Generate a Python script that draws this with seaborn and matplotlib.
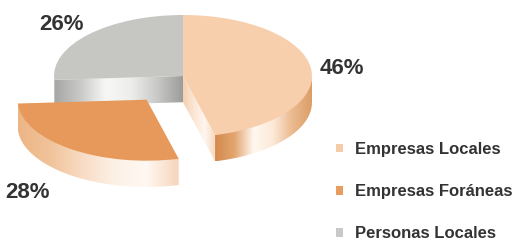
import numpy as np
import matplotlib
matplotlib.use("Agg")
import matplotlib.pyplot as plt
import seaborn as sns
from matplotlib.patches import Polygon, Patch
from matplotlib.colors import LinearSegmentedColormap

# ---- data ----
categories = ["Empresas Locales", "Empresas Foráneas", "Personas Locales"]
shares = [46, 28, 26]
pct_labels = [f"{v}%" for v in shares]

# ---- style ----
sns.set_theme(style="white")
plt.rcParams["font.family"] = ["Liberation Sans", "DejaVu Sans"]

top_colors = ["#F8CFAD", "#E6995A", "#C6C7C2"]
legend_colors = ["#F6CCA8", "#E89C5E", "#C9C9C7"]
wall_stops = [
    ["#D48A4C", "#E2A570", "#FFF8F0", "#FCE9D8", "#EBB98E", "#DC9E68"],
    ["#EDB585", "#F1C39A", "#F8DCC4", "#FDF1E6", "#FFF8F2", "#F6D5BA"],
    ["#A9A9A7", "#C4C4C2", "#F4F4F2", "#FAFAF8", "#D0D0CE", "#9E9E9C"],
]
cut_stops = [
    ["#F3CFAE", "#FBE7D6", "#FFF6EE", "#F6D7BC"],
    None,
    ["#A6A6A4", "#C8C8C6", "#F7F7F5", "#EDEDEB", "#C9C9C7", "#9C9C9A"],
]
explode = [0.0, 0.48, 0.0]
depth = 0.43
text_color = "#333333"

W, H = 515, 242
cx_px, cy_px, rx_px, ry_px = 183, 76, 129, 61

fig = plt.figure(figsize=(W / 100, H / 100), dpi=100)
ax = fig.add_axes([0, 0, 1, 1])

wedges, _ = ax.pie(shares, colors=top_colors, startangle=90, counterclock=False,
                   explode=explode, radius=1, wedgeprops=dict(linewidth=0))


def grad_fill(xy, stops, z):
    xy = np.asarray(xy)
    poly = Polygon(xy, closed=True, facecolor="none", edgecolor="none", zorder=z)
    ax.add_patch(poly)
    cmap = LinearSegmentedColormap.from_list("g", stops)
    img = ax.imshow(np.linspace(0, 1, 256)[None, :], cmap=cmap,
                    extent=[xy[:, 0].min(), xy[:, 0].max(), xy[:, 1].min(), xy[:, 1].max()],
                    aspect="auto", zorder=z, interpolation="bilinear")
    img.set_clip_path(poly)


def wall(w, stops, z):
    a = max(w.theta1, -180.0)
    b = min(w.theta2, 0.0)
    if b <= a:
        return
    t = np.radians(np.linspace(a, b, 120))
    cx, cy = w.center
    xs = cx + w.r * np.cos(t)
    ys = cy + w.r * np.sin(t)
    xy = np.concatenate([np.c_[xs, ys + 0.02], np.c_[xs[::-1], ys[::-1] - depth]])
    grad_fill(xy, stops, z)


def cut_face(w, ang, stops, z):
    cx, cy = w.center
    t = np.radians(ang)
    ex, ey = cx + w.r * np.cos(t), cy + w.r * np.sin(t)
    xy = [(cx, cy), (ex, ey), (ex, ey - depth), (cx, cy - depth)]
    if ex < cx:
        xy = [(ex, ey), (cx, cy), (cx, cy - depth), (ex, ey - depth)]
    grad_fill(xy, stops, z)


loc, fora, pers = wedges
# back slice (gray)
cut_face(pers, pers.theta2, cut_stops[2], 1)
wall(pers, wall_stops[2], 1)
pers.set_zorder(2)
# right slice
cut_face(loc, loc.theta1, cut_stops[0], 3)
wall(loc, wall_stops[0], 3)
loc.set_zorder(4)
# exploded front slice
wall(fora, wall_stops[1], 5)
fora.set_zorder(6)

ax.set_aspect("auto")
ax.set_xlim(-cx_px / rx_px, (W - cx_px) / rx_px)
ax.set_ylim(-(H - cy_px) / ry_px, cy_px / ry_px)
ax.axis("off")

# percentage labels
label_pos = [(342, 68), (27, 192), (61, 25)]
for txt, (px, py) in zip(pct_labels, label_pos):
    fig.text(px / W, 1 - py / H, txt, ha="center", va="center", fontsize=16,
             fontweight="bold", color=text_color)

# legend
handles = [Patch(facecolor=c, edgecolor="none") for c in legend_colors]
leg = fig.legend(handles, categories, loc="upper left",
                 bbox_to_anchor=(336 / W, 1 - 142 / H), frameon=False,
                 handlelength=0.42, handleheight=0.42, handletextpad=0.72,
                 labelspacing=1.63, borderpad=0, borderaxespad=0,
                 prop=dict(size=12, weight="bold"))
for t in leg.get_texts():
    t.set_color(text_color)

fig.savefig("out.png", dpi=100, facecolor="white")
